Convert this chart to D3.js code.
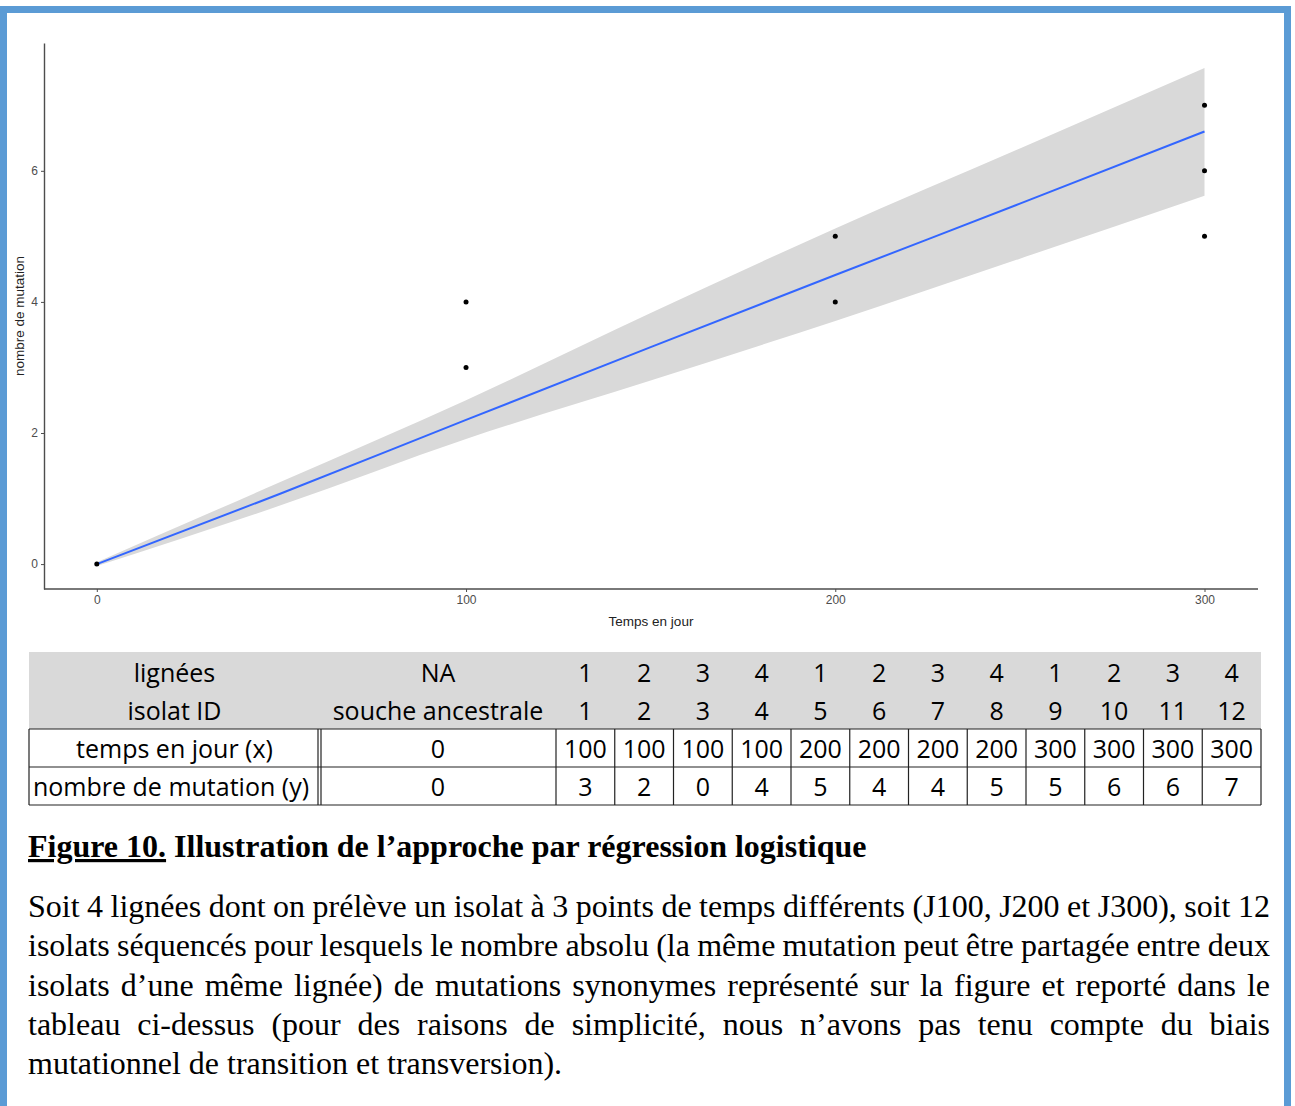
<!DOCTYPE html>
<html>
<head>
<meta charset="utf-8">
<script src="https://cdn.jsdelivr.net/npm/d3@7"></script>
<style>
    body { margin: 0; background: #fff; }
    svg { display: block; }
    .axis text { font-family: "Liberation Sans", Arial, sans-serif; font-size: 12px; fill: #4d4d4d; }
    .axis path, .axis line { stroke: #4d4d4d; }
    .cell { font-family: "Open Sans", "Noto Sans", sans-serif; font-size: 25px; fill: #000; }
    .serif { font-family: "Liberation Serif", "Times New Roman", serif; font-size: 32px; fill: #000; }
</style>
</head>
<body>
<div id="chart"></div>
<script>
// points visible on the plot
const timePts = [0, 100, 100, 200, 200, 300, 300, 300];
const mutPts = [0, 4, 3, 5, 4, 7, 6, 5];

// smooth line + confidence band
const fitX = [0, 50, 100, 150, 200, 250, 300];
const fitY = [0, 1.08, 2.2, 3.31, 4.41, 5.5, 6.6];
const fitLow = [-0.03, 0.9, 1.91, 2.8, 3.71, 4.66, 5.62];
const fitHigh = [0.03, 1.26, 2.5, 3.83, 5.12, 6.34, 7.57];

const xTicks = [0, 100, 200, 300];
const yTicks = [0, 2, 4, 6];

// table
const rowLabels = ["lignées", "isolat ID", "temps en jour (x)", "nombre de mutation (y)"];
const lignees = ["NA", "1", "2", "3", "4", "1", "2", "3", "4", "1", "2", "3", "4"];
const isolatID = ["souche ancestrale", "1", "2", "3", "4", "5", "6", "7", "8", "9", "10", "11", "12"];
const tempsJour = [0, 100, 100, 100, 100, 200, 200, 200, 200, 300, 300, 300, 300];
const nbMutation = [0, 3, 2, 0, 4, 5, 4, 4, 5, 5, 6, 6, 7];

const captionTitle = "Figure 10.";
const captionTitleRest = " Illustration de l’approche par régression logistique";
const captionLines = [
    "Soit 4 lignées dont on prélève un isolat à 3 points de temps différents (J100, J200 et J300), soit 12",
    "isolats séquencés pour lesquels le nombre absolu (la même mutation peut être partagée entre deux",
    "isolats d’une même lignée) de mutations synonymes représenté sur la figure et reporté dans le",
    "tableau ci-dessus (pour des raisons de simplicité, nous n’avons pas tenu compte du biais",
    "mutationnel de transition et transversion)."
];

const W = 1295, H = 1106;

let svg = d3.select("#chart").append("svg")
    .attr("width", W)
    .attr("height", H);

svg.append("rect").attr("width", W).attr("height", H).attr("fill", "#fff");

// blue frame
svg.append("rect")
    .attr("x", 3.5).attr("y", 9.5)
    .attr("width", 1284).attr("height", 1200)
    .attr("fill", "none")
    .attr("stroke", "#5b9bd5")
    .attr("stroke-width", 7);

// ---------- plot ----------
let plot = {left: 44, right: 1261, top: 43, bottom: 589};

let x = d3.scaleLinear().domain([-14.3, 315.3]).range([plot.left, plot.right]);
let y = d3.scaleLinear().domain([-0.38, 7.95]).range([plot.bottom, plot.top]);

let fit = fitX.map((d, i) => ({x: d, y: fitY[i], lo: fitLow[i], hi: fitHigh[i]}));

svg.append("path")
    .datum(fit)
    .attr("fill", "#d9d9d9")
    .attr("d", d3.area().x(d => x(d.x)).y0(d => y(d.lo)).y1(d => y(d.hi)).curve(d3.curveMonotoneX));

svg.append("path")
    .datum(fit)
    .attr("fill", "none")
    .attr("stroke", "#3366ff")
    .attr("stroke-width", 2)
    .attr("d", d3.line().x(d => x(d.x)).y(d => y(d.y)).curve(d3.curveMonotoneX));

svg.selectAll(".pt")
    .data(timePts)
    .enter().append("circle")
    .attr("class", "pt")
    .attr("cx", d => x(d))
    .attr("cy", (d, i) => y(mutPts[i]))
    .attr("r", 2.5)
    .attr("fill", "#000");

let xAxis = svg.append("g")
    .attr("class", "axis")
    .attr("transform", `translate(0,${plot.bottom})`)
    .call(d3.axisBottom(x).tickValues(xTicks).tickSize(3).tickPadding(3).tickSizeOuter(0));
xAxis.select(".domain").attr("stroke-width", 1.4).attr("d", `M${plot.left},0H1258`);

let yAxis = svg.append("g")
    .attr("class", "axis")
    .attr("transform", `translate(${plot.left},0)`)
    .call(d3.axisLeft(y).tickValues(yTicks).tickSize(3).tickPadding(3).tickSizeOuter(0));
yAxis.select(".domain").attr("stroke-width", 1.4);

svg.append("text")
    .attr("x", 651)
    .attr("y", 626)
    .attr("text-anchor", "middle")
    .attr("font-family", "Liberation Sans, Arial, sans-serif")
    .attr("font-size", 13.5)
    .attr("fill", "#222")
    .text("Temps en jour");

svg.append("text")
    .attr("transform", `translate(24,${(plot.top + plot.bottom) / 2}) rotate(-90)`)
    .attr("text-anchor", "middle")
    .attr("font-family", "Liberation Sans, Arial, sans-serif")
    .attr("font-size", 13.5)
    .attr("fill", "#222")
    .text("nombre de mutation");

// ---------- table ----------
let tbl = {left: 29, right: 1261, top: 652, c1: 320, c2: 556};
let rowTops = [652, 691, 729, 767, 805];

let colBand = d3.scaleBand().domain(d3.range(12)).range([tbl.c2, tbl.right]);
let colCenter = i => i === 0 ? (tbl.c1 + tbl.c2) / 2 : colBand(i - 1) + colBand.bandwidth() / 2;

svg.append("rect")
    .attr("x", tbl.left).attr("y", rowTops[0])
    .attr("width", tbl.right - tbl.left).attr("height", rowTops[2] - rowTops[0])
    .attr("fill", "#d9d9d9");

let tg = svg.append("g").attr("stroke", "#222").attr("stroke-width", 1.2);
// horizontal rules for white rows
[2, 3, 4].forEach(r => {
    tg.append("line").attr("x1", tbl.left).attr("x2", tbl.right)
        .attr("y1", rowTops[r]).attr("y2", rowTops[r]);
});
// vertical rules
let vx = [tbl.left, tbl.c2].concat(d3.range(12).map(i => colBand(i) + colBand.bandwidth()));
vx.forEach(v => {
    tg.append("line").attr("x1", v).attr("x2", v).attr("y1", rowTops[2]).attr("y2", rowTops[4]);
});
// double rule after first column
[tbl.c1 - 2, tbl.c1 + 1].forEach(v => {
    tg.append("line").attr("x1", v).attr("x2", v).attr("y1", rowTops[2]).attr("y2", rowTops[4]);
});

let rows = [lignees, isolatID, tempsJour, nbMutation];
rows.forEach((vals, r) => {
    let cy = (rowTops[r] + rowTops[r + 1]) / 2;
    svg.append("text")
        .attr("class", "cell")
        .attr("x", r === 3 ? tbl.left + 4 : (tbl.left + tbl.c1) / 2)
        .attr("y", cy)
        .attr("dominant-baseline", "central")
        .attr("text-anchor", r === 3 ? "start" : "middle")
        .text(rowLabels[r]);
    svg.selectAll(null)
        .data(vals)
        .enter().append("text")
        .attr("class", "cell")
        .attr("x", (d, i) => colCenter(i))
        .attr("y", cy)
        .attr("dominant-baseline", "central")
        .attr("text-anchor", "middle")
        .text(d => d);
});

// ---------- caption ----------
let title = svg.append("text")
    .attr("class", "serif")
    .attr("x", 28).attr("y", 857)
    .attr("font-weight", "bold");
title.append("tspan").attr("text-decoration", "underline").text(captionTitle);
title.append("tspan").text(captionTitleRest);

let bodyLeft = 28, bodyRight = 1270;
let baselines = [917, 956, 996, 1035, 1074];
captionLines.forEach((line, li) => {
    let words = line.split(" ");
    let t = svg.append("text")
        .attr("class", "serif")
        .attr("y", baselines[li]);
    let spans = words.map(w => t.append("tspan").text(w));
    let widths = spans.map(s => s.node().getComputedTextLength());
    let total = d3.sum(widths);
    let last = li === captionLines.length - 1;
    let gap = last ? 8 : (bodyRight - bodyLeft - total) / (words.length - 1);
    let cx = bodyLeft;
    spans.forEach((s, i) => {
        s.attr("x", cx);
        cx += widths[i] + gap;
    });
});
</script>
</body>
</html>
